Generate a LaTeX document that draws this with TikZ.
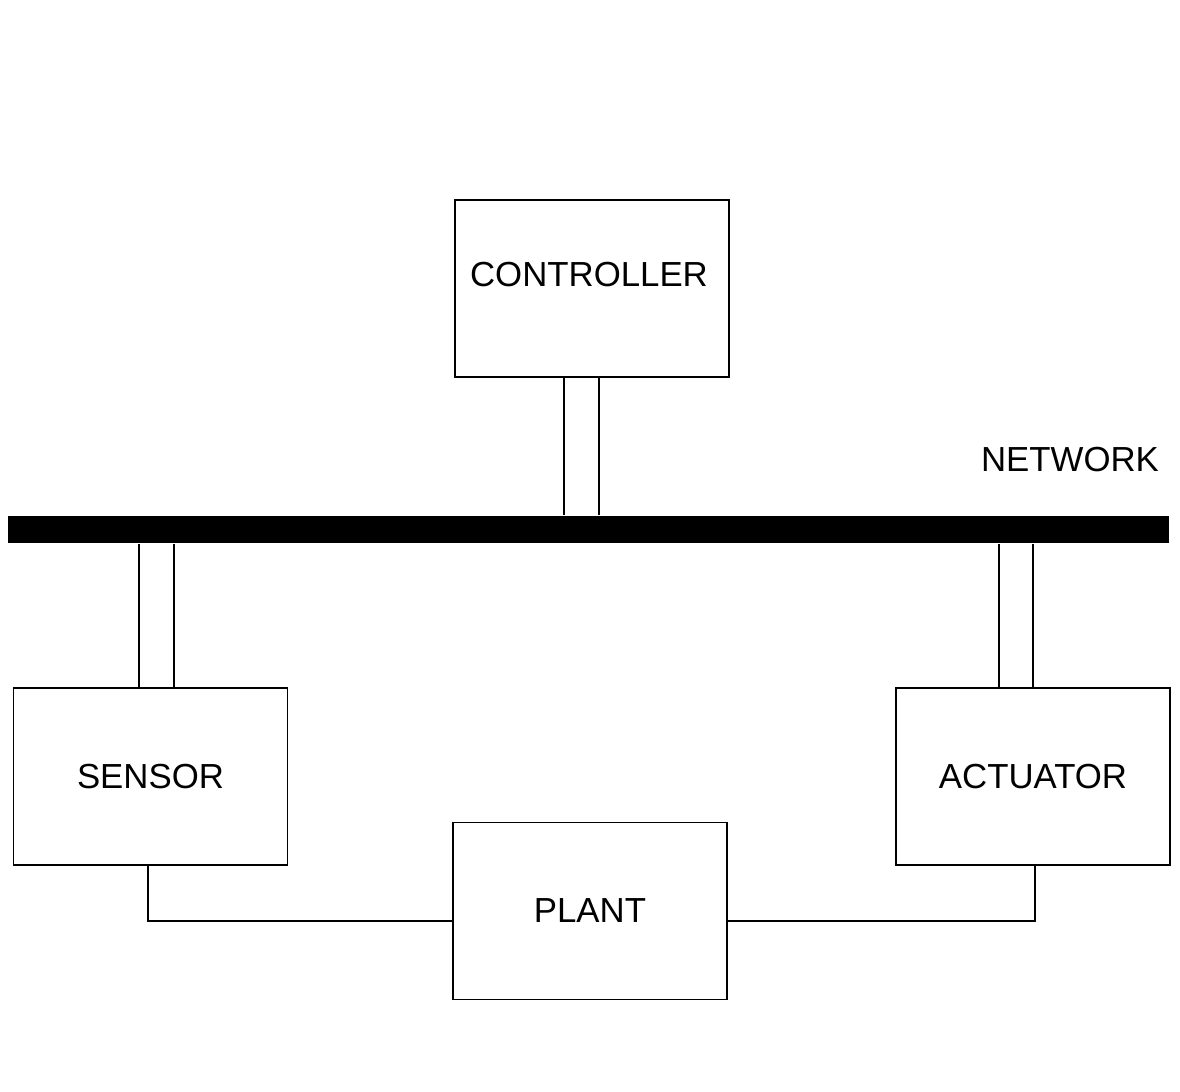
\documentclass[tikz,border=0pt]{standalone}
\usepackage{fontspec}
\setmainfont{Liberation Sans}
\usepackage{tikz}

\begin{document}
\begin{tikzpicture}[x=0.02cm,y=-0.02cm,line width=1pt,
  block/.style={draw,minimum width=5.48cm,minimum height=3.54cm,font=\fontsize{19.8}{24}\selectfont},
  bus/.style={fill=black,minimum width=23.22cm,minimum height=0.54cm,inner sep=0pt}]
\useasboundingbox (0,0) rectangle (1180,1092);

\node[block] (ctrl) at (592,288.5) {};
\node[font=\fontsize{19.8}{24}\selectfont] (ctrltext) at (589,275) {CONTROLLER};
\node[block] (sensor) at (150.5,776.5) {SENSOR};
\node[block] (act) at (1033,776.5) {ACTUATOR};
\node[block] (plant) at (590,911) {PLANT};

\node[bus] (net) at (588.5,529.5) {};
\node[font=\fontsize{19.8}{24}\selectfont] (nettext) at (1070,460) {NETWORK};

% links to the network
\foreach \x/\n in {564/c1,599/c2} \coordinate (\n) at (\x,0);
\foreach \x/\n in {139/s1,174/s2} \coordinate (\n) at (\x,0);
\foreach \x/\n in {999/a1,1033/a2} \coordinate (\n) at (\x,0);
\foreach \n in {c1,c2} \draw (ctrl.south -| \n) -- (net.north -| \n);
\foreach \n in {s1,s2} \draw (net.south -| \n) -- (sensor.north -| \n);
\foreach \n in {a1,a2} \draw (net.south -| \n) -- (act.north -| \n);

% plant loop
\coordinate (sp) at (148,921);
\coordinate (ap) at (1035,921);
\draw (sensor.south -| sp) -- (sp) -- (plant.west |- sp);
\draw (act.south -| ap) -- (ap) -- (plant.east |- ap);
\end{tikzpicture}
\end{document}
